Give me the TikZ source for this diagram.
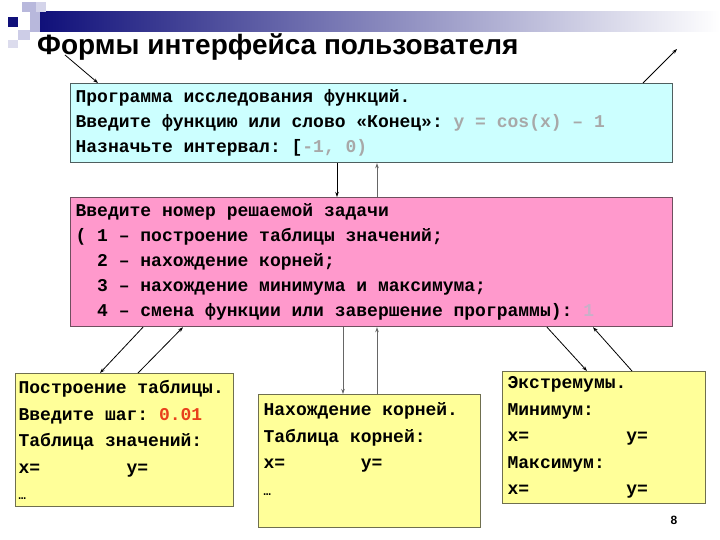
\documentclass[tikz,border=0pt]{standalone}
\usepackage{fontspec}
\setmainfont{Liberation Sans}
\newfontfamily\cour{Liberation Mono}
\usetikzlibrary{arrows.meta,calc}
\definecolor{cyanfill}{HTML}{CCFFFF}
\definecolor{pinkfill}{HTML}{FF99CC}
\definecolor{yelfill}{HTML}{FFFF99}
\definecolor{cyanedge}{HTML}{4F5F5F}
\definecolor{pinkedge}{HTML}{6F4F5F}
\definecolor{yeledge}{HTML}{6F6F4F}
\definecolor{lighttxt}{HTML}{A8A8A8}
\definecolor{pinktxt}{HTML}{C8B0C8}
\definecolor{redtxt}{HTML}{E8401C}
\definecolor{navy}{HTML}{10107A}
\definecolor{lav}{HTML}{B8B8DC}
\newcommand{\spc}[1]{\hphantom{#1}}
\newcommand{\ms}{\spaceskip=0.6em\xspaceskip=0.6em\relax}
\tikzset{
  panel/.style={draw, line width=1.2pt, anchor=north west, inner sep=0pt,
    font=\cour\bfseries\fontsize{18}{25}\selectfont, align=left},
  cyanbox/.style={panel, fill=cyanfill, draw=cyanedge},
  pinkbox/.style={panel, fill=pinkfill, draw=pinkedge},
  yelbox/.style={panel, fill=yelfill, draw=yeledge, font=\cour\bfseries\fontsize{18}{26.5}\selectfont},
  arr/.style={-{Stealth[length=5pt,width=3.5pt]}, line width=0.8pt, draw=black},
  garr/.style={arr, draw=black!60}
}
\begin{document}
\begin{tikzpicture}[x=1pt,y=-1pt]
\useasboundingbox (0,0) rectangle (720,540);
% decoration
\shade[left color=navy, right color=white, shading angle=90] (40,12) rectangle (720,32);
\fill[lav] (22,2) rectangle (36,12);
\fill[lav] (30,12) rectangle (40,32);
\fill[lav!60] (36,2) rectangle (46,12);
\fill[navy] (8,17) rectangle (18,27);
\fill[lav!70] (18,30) rectangle (30,40);
\fill[lav!50] (8,40) rectangle (18,48);
\node[anchor=base west, inner sep=0pt, font=\bfseries\fontsize{28}{30}\selectfont] (title) at (37,55) {Формы интерфейса пользователя};

% boxes
\node[cyanbox, minimum width=602pt, minimum height=79pt, text width=592pt] (cyan) at (70,83)
 {\ms Программа исследования функций.\\
  Введите функцию или слово «Конец»: \textcolor{lighttxt}{y = cos(x) – 1}\\
  Назначьте интервал: [\textcolor{lighttxt}{-1, 0)}};
\node[pinkbox, minimum width=602pt, minimum height=129pt, text width=592pt] (pink) at (70,197)
 {\ms Введите номер решаемой задачи\\
  ( 1 – построение таблицы значений;\\
  \spc{0}\spc{0}2 – нахождение корней;\\
  \spc{0}\spc{0}3 – нахождение минимума и максимума;\\
  \spc{0}\spc{0}4 – смена функции или завершение программы): \textcolor{pinktxt}{1}};
\node[yelbox, minimum width=218pt, minimum height=133pt, text width=212pt] (left) at (15,373)
 {\ms Построение таблицы.\\
  Введите шаг: \textcolor{redtxt}{0.01}\\
  Таблица значений:\\
  x=\spc{00000000}y=\\
  {\fontsize{12}{12}\selectfont …}};
\node[yelbox, minimum width=222pt, minimum height=133pt, text width=212pt] (mid) at (258,394)
 {\ms Нахождение корней.\\
  Таблица корней:\\
  x=\spc{0000000}y=\\
  {\fontsize{12}{12}\selectfont …}\rule[-24pt]{0pt}{1pt}};
\node[yelbox, minimum width=203pt, minimum height=132pt, text width=193pt] (right) at (502,371)
 {\ms Экстремумы.\\
  Минимум:\\
  x=\spc{000000000}y=\\
  Максимум:\\
  x=\spc{000000000}y=};
\node[anchor=base, inner sep=0pt, font=\bfseries\fontsize{12}{14}\selectfont] (page) at (674,524) {8};

% helper coordinates
\coordinate (x337) at (337,0);
\coordinate (x377) at (377,0);
\coordinate (x343) at (343,0);
\coordinate (tl) at (65,55);
\coordinate (tr) at (677,49);
\coordinate (x98) at (98,0);
\coordinate (x643) at (643,0);

% arrows
\draw[arr] (tl) -- (cyan.north -| x98);
\draw[arr] (cyan.north -| x643) -- (tr);
\draw[arr] (cyan.south -| x337) -- (pink.north -| x337);
\draw[garr] (pink.north -| x377) -- (cyan.south -| x377);
\draw[arr] ($(pink.south west)+(73,0)$) -- ($(left.north west)+(85,0)$);
\draw[arr] ($(left.north west)+(123,0)$) -- ($(pink.south west)+(113,0)$);
\draw[garr] (pink.south -| x343) -- (mid.north -| x343);
\draw[garr] (mid.north -| x377) -- (pink.south -| x377);
\draw[arr] ($(pink.south west)+(477,0)$) -- ($(right.north west)+(85,0)$);
\draw[arr] ($(right.north west)+(130,0)$) -- ($(pink.south west)+(523,0)$);
\end{tikzpicture}
\end{document}
